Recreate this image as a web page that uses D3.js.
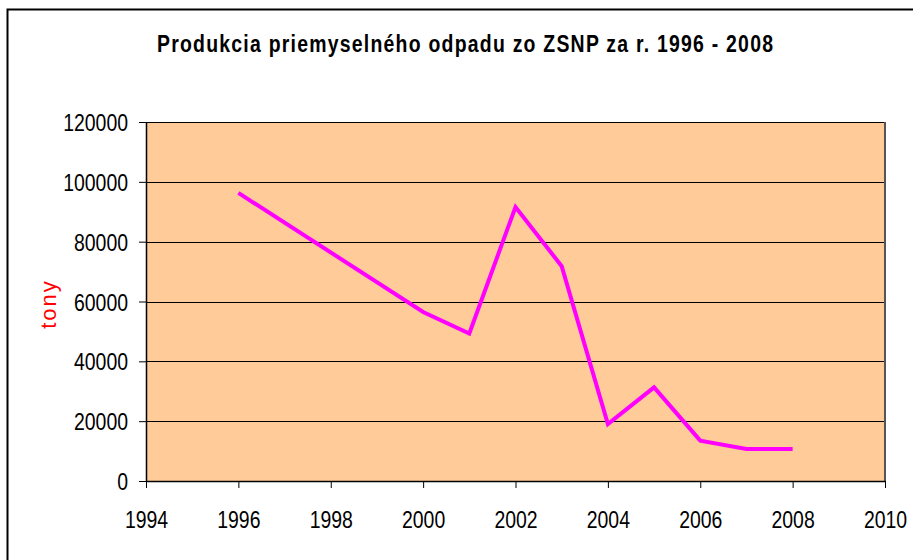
<!DOCTYPE html>
<html>
<head>
<meta charset="utf-8">
<script src="https://cdn.jsdelivr.net/npm/d3@7"></script>
<style>
  body { margin: 0; background: #fff; }
  text { font-family: "Liberation Sans", Arial, sans-serif; }
</style>
</head>
<body>
<div id="wrapper"></div>
<script>
// data
const years = [1996, 2000, 2001, 2002, 2003, 2004, 2005, 2006, 2007, 2008];
const tons = [96300, 56500, 49300, 91600, 71800, 19000, 31300, 13500, 10700, 10700];
const xTicks = [1994, 1996, 1998, 2000, 2002, 2004, 2006, 2008, 2010];
const yTicks = [0, 20000, 40000, 60000, 80000, 100000, 120000];
const title = "Produkcia priemyselného odpadu zo ZSNP za r. 1996 - 2008";
const yLabel = "tony";

function drawChart() {

  // 1. dimensions
  let dimensions = {
    width: 913,
    height: 560,
    margin: { top: 122, right: 28, bottom: 79, left: 146 },
  };
  dimensions.boundedWidth = dimensions.width - dimensions.margin.left - dimensions.margin.right;
  dimensions.boundedHeight = dimensions.height - dimensions.margin.top - dimensions.margin.bottom;

  // the original font is a narrow Arial, so squeeze a regular one
  const narrow = 0.81;

  // 2. canvas
  const wrapper = d3.select("#wrapper")
    .append("svg")
      .attr("width", dimensions.width)
      .attr("height", dimensions.height);

  // outer frame (runs off the right and bottom edges)
  wrapper.append("path")
      .attr("d", "M7.5,560 V9.5 H913")
      .attr("fill", "none")
      .attr("stroke", "#000")
      .attr("stroke-width", 2);

  wrapper.append("text")
      .attr("transform", `translate(465, 52) scale(${narrow}, 1)`)
      .attr("text-anchor", "middle")
      .attr("textLength", 616 / narrow)
      .attr("lengthAdjust", "spacing")
      .style("font-size", "24px")
      .style("font-weight", "bold")
      .text(title);

  const bounds = wrapper.append("g")
      .attr("transform", `translate(${dimensions.margin.left}, ${dimensions.margin.top})`);

  // 3. scales
  const xScale = d3.scaleLinear()
    .domain([1994, 2010])
    .range([0, dimensions.boundedWidth]);

  const yScale = d3.scaleLinear()
    .domain([0, 120000])
    .range([dimensions.boundedHeight, 0]);

  // plot area
  bounds.append("rect")
      .attr("width", dimensions.boundedWidth)
      .attr("height", dimensions.boundedHeight)
      .attr("fill", "#ffcc99");

  // gridlines
  bounds.append("g")
    .selectAll("line")
    .data(yTicks.filter(d => d > 0))
    .join("line")
      .attr("x1", 0)
      .attr("x2", dimensions.boundedWidth)
      .attr("y1", d => Math.round(yScale(d)) + 0.5)
      .attr("y2", d => Math.round(yScale(d)) + 0.5)
      .attr("stroke", "#000")
      .attr("stroke-width", 1);

  // right edge of plot
  bounds.append("line")
      .attr("x1", dimensions.boundedWidth)
      .attr("x2", dimensions.boundedWidth)
      .attr("y1", 0)
      .attr("y2", dimensions.boundedHeight)
      .attr("stroke", "#555")
      .attr("stroke-width", 2);

  // 4. axes
  const yAxisGenerator = d3.axisLeft(yScale)
    .tickValues(yTicks)
    .tickSizeInner(7)
    .tickSizeOuter(0)
    .tickFormat(d3.format("d"));

  const yAxis = bounds.append("g")
    .call(yAxisGenerator);

  const xAxisGenerator = d3.axisBottom(xScale)
    .tickValues(xTicks)
    .tickSizeInner(7)
    .tickSizeOuter(0)
    .tickFormat(d3.format("d"));

  const xAxis = bounds.append("g")
      .attr("transform", `translate(0, ${dimensions.boundedHeight})`)
    .call(xAxisGenerator);

  [xAxis, yAxis].forEach(axis => {
    axis.selectAll(".domain").attr("stroke", "#000").attr("stroke-width", 1.5);
    axis.selectAll(".tick line").attr("stroke", "#000");
    axis.selectAll(".tick text")
        .style("font-family", "\"Liberation Sans\", Arial, sans-serif")
        .style("font-size", "24px")
        .attr("fill", "#000")
        .attr("transform", `scale(${narrow}, 1)`);
  });

  yAxis.selectAll(".tick text")
      .attr("x", -18 / narrow)
      .attr("dy", "0.36em");

  xAxis.selectAll(".tick text")
      .attr("y", 47)
      .attr("dy", 0);

  wrapper.append("text")
      .attr("transform", "translate(56, 304) rotate(-90)")
      .attr("text-anchor", "middle")
      .attr("fill", "#ff0000")
      .style("font-size", "22px")
      .style("letter-spacing", "2px")
      .text(yLabel);

  // 5. draw data
  const lineGenerator = d3.line()
    .x((d, i) => xScale(years[i]))
    .y(d => yScale(d));

  bounds.append("path")
      .attr("d", lineGenerator(tons))
      .attr("fill", "none")
      .attr("stroke", "#ff00ff")
      .attr("stroke-width", 4)
      .attr("stroke-linejoin", "miter");
}
drawChart();
</script>
</body>
</html>
